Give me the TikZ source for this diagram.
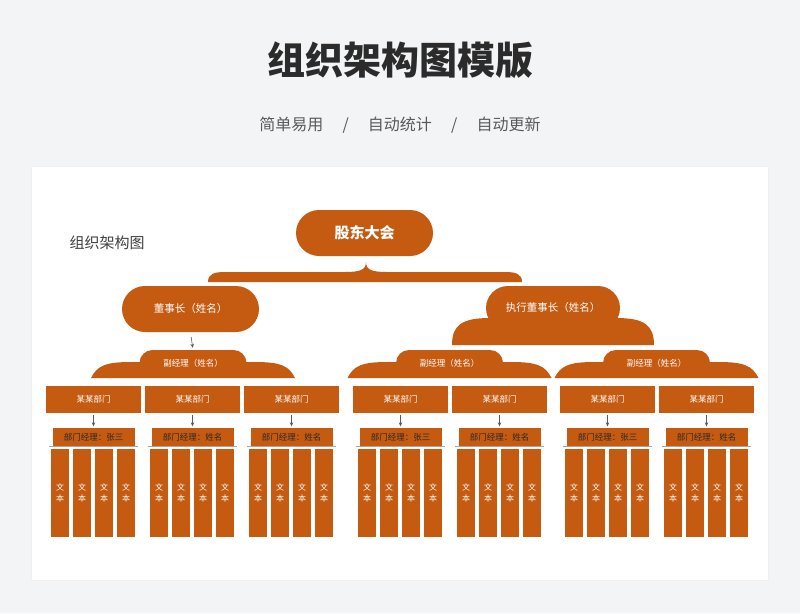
\documentclass[tikz,border=0pt]{standalone}
\usepackage{fontspec}
\newfontfamily\cjk{Noto Sans CJK SC}
\usetikzlibrary{arrows.meta}
\definecolor{org}{HTML}{C55A11}
\definecolor{bgc}{HTML}{F3F4F6}
\definecolor{ttl}{HTML}{2B2B2B}
\begin{document}
\begin{tikzpicture}[x=1pt,y=-1pt,font=\cjk,
  pill/.style={fill=org,rounded corners=#1,inner sep=0pt,text=white},
  dept/.style={fill=org,minimum width=95pt,minimum height=27pt,inner sep=0pt,text=white,font=\cjk\fontsize{8.5}{10}\selectfont},
  mgr/.style={fill=org,minimum width=82pt,minimum height=18pt,inner sep=0pt,text=ttl,font=\cjk\fontsize{8.5}{10}\selectfont},
  colb/.style={fill=org,minimum width=18pt,minimum height=88pt,inner sep=0pt,text=white,align=center,font=\cjk\fontsize{8}{11}\selectfont},
  arr/.style={-{Stealth[length=4pt,width=3.5pt]},draw=black!65,line width=0.6pt}]
\useasboundingbox (0,0) rectangle (800,613);
\fill[bgc] (0,0) rectangle (800,613);
\fill[black!6] (31,166) rectangle (769,581);
\fill[white] (32,167) rectangle (768,580);
\node[font=\cjk\bfseries\fontsize{38}{44}\selectfont,text=ttl] (title) at (400,60) {组织架构图模版};
\node[font=\cjk\fontsize{16}{20}\selectfont,text=black!65] (sub) at (400,125) {简单易用\hspace{1.2em}/\hspace{1.2em}自动统计\hspace{1.2em}/\hspace{1.2em}自动更新};
\node[font=\cjk\fontsize{15}{18}\selectfont,text=black!75,anchor=west] (lbl) at (66,243) {组织架构图};
% top
\node[pill=23pt,minimum width=137pt,minimum height=46pt,font=\cjk\bfseries\fontsize{15}{18}\selectfont] (gd) at (364.5,233) {股东大会};
\fill[org] (208,282) .. controls (208,274) and (214,272) .. (225,272) -- (345,272) .. controls (360,272) and (366,270) .. (366,262)
  .. controls (366,270) and (372,272) .. (387,272) -- (505,272) .. controls (516,272) and (522,274) .. (522,282) -- cycle;
\coordinate (br) at (366,262);
% left chairman
\node[pill=23pt,minimum width=137pt,minimum height=46pt,font=\cjk\fontsize{10.5}{12}\selectfont] (dsz) at (190.5,309) {董事长（姓名）};
% right chairman cloud
\fill[org] (452,345) .. controls (452,325) and (462,318) .. (490,318) -- (616,318) .. controls (644,318) and (654,325) .. (654,345) -- cycle;
\node[pill=22pt,minimum width=134pt,minimum height=44pt,font=\cjk\fontsize{10.5}{12}\selectfont] (zx) at (553,308) {执行董事长（姓名）};
% vice managers
\foreach \cx/\nm in {193/f1,449.5/f2,656.5/f3}{
  \fill[org] (\cx-102,378) .. controls (\cx-96,366) and (\cx-88,362) .. (\cx-62,362) -- (\cx+62,362) .. controls (\cx+88,362) and (\cx+96,366) .. (\cx+102,378) -- cycle;
  \node[pill=13pt,minimum width=107pt,minimum height=27pt,font=\cjk\fontsize{8.5}{10}\selectfont] (\nm) at (\cx,363.5) {副经理（姓名）};
}
\draw[arr,shorten <=5pt,shorten >=2pt] (dsz.south) -- (f1.north);
% departments
\foreach \x/\nm [count=\i] in {46/张三,145/姓名,244/姓名,353/张三,452/姓名,560/张三,659/姓名}{
  \node[dept] (d\i) at (\x+47.5,399.5) {某某部门};
  \node[mgr] (m\i) at (\x+47.5,437) {部门经理：\nm};
  \draw[arr,shorten <=2pt,shorten >=1.5pt] (d\i.south) -- (m\i.north);
  \draw[black!35,line width=0.6pt] (\x+3,446.5) -- (\x+92,446.5);
  \foreach \j in {0,1,2,3}{
    \node[colb] (c\i-\j) at (\x+14+22*\j,493) {文\\本};
  }
}
\end{tikzpicture}
\end{document}
